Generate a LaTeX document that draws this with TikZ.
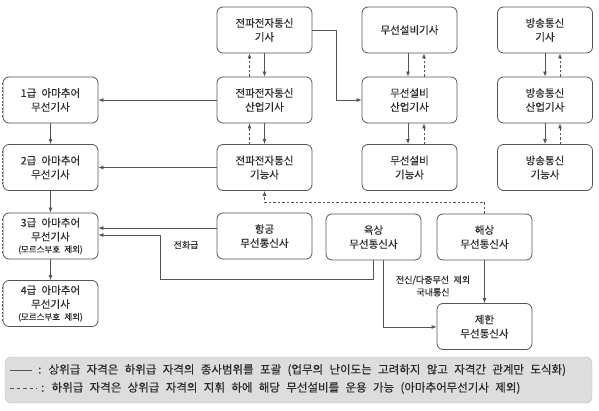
\documentclass[tikz,border=0pt]{standalone}
\usepackage{fontspec}
\setmainfont{Noto Sans CJK KR}[FakeBold=0.3]
\usetikzlibrary{arrows.meta}
\definecolor{edge}{HTML}{555555}
\definecolor{txt}{HTML}{2A2A2A}
\definecolor{legfill}{HTML}{DDDDDD}
\newcommand{\wsp}{\spaceskip=0.5em\relax}
\newcommand{\wspl}{\spaceskip=0.55em\relax}
\tikzset{
  box/.style={draw=edge, line width=0.8pt, rounded corners=6pt, minimum width=95pt, minimum height=46pt,
    inner sep=1pt, align=center, text=txt, font=\fontsize{10.5}{14}\selectfont\wsp, fill=white},
  sol/.style={draw=edge, line width=0.8pt, -{Latex[length=5pt,width=4pt]}},
  dsh/.style={draw=edge, line width=0.8pt, dash pattern=on 2.5pt off 2pt, -{Latex[length=5pt,width=4pt]}},
  small/.style={font=\fontsize{9}{12.5}\selectfont\wsp, text=txt, align=center},
  leg/.style={font=\fontsize{11.5}{14}\selectfont\wspl, text=txt, anchor=west, inner sep=0pt},
}
\newcommand{\mors}{{\fontsize{8.5}{9}\selectfont\wsp(모르스부호 제외)}}
\begin{document}
\begin{tikzpicture}[x=1pt,y=-1pt]
\useasboundingbox (0,0) rectangle (599,411);
% boxes
\node[box] (ejg) at (264.5,30) {전파전자통신\\기사};
\node[box] (eji) at (264.5,100) {전파전자통신\\산업기사};
\node[box] (ejn) at (264.5,167.5) {전파전자통신\\기능사};
\node[box] (a1) at (50.5,100) {1급 아마추어\\무선기사};
\node[box] (a2) at (50.5,167.5) {2급 아마추어\\무선기사};
\node[box] (a3) at (50.5,236) {3급 아마추어\\무선기사\\[-2pt]\mors};
\node[box] (a4) at (50.5,303.5) {4급 아마추어\\무선기사\\[-2pt]\mors};
\node[box] (air) at (264.5,236) {항공\\무선통신사};
\node[box] (land) at (373.5,237) {육상\\무선통신사};
\node[box] (sea) at (484.5,237) {해상\\무선통신사};
\node[box] (lim) at (484.5,326.5) {제한\\무선통신사};
\node[box] (wg) at (409.5,30) {무선설비기사};
\node[box] (wi) at (409.5,100) {무선설비\\산업기사};
\node[box] (wn) at (409.5,167.5) {무선설비\\기능사};
\node[box] (bg) at (545,30) {방송통신\\기사};
\node[box] (bi) at (545,100) {방송통신\\산업기사};
\node[box] (bn) at (545,167.5) {방송통신\\기능사};
% dashed left edges of amateur boxes
\foreach \n in {a1,a2,a3,a4}{
  \draw[white, line width=1.6pt] ([yshift=-16pt]\n.west) -- ([yshift=16pt]\n.west);
  \draw[edge, line width=0.8pt, dash pattern=on 2pt off 1.5pt] ([yshift=-17pt]\n.west) -- ([yshift=17pt]\n.west);
}
% vertical chains
\draw[sol] (ejg) -- (eji);
\draw[sol] (eji) -- (ejn);
\draw[dsh] ([xshift=-15pt]eji.north) -- ([xshift=-15pt]ejg.south);
\draw[dsh] ([xshift=-15pt]ejn.north) -- ([xshift=-15pt]eji.south);
\draw[sol] ([xshift=-1.5pt]wg.south) -- ([xshift=-1.5pt]wi.north);
\draw[sol] ([xshift=-1.5pt]wi.south) -- ([xshift=-1.5pt]wn.north);
\draw[dsh] ([xshift=14.5pt]wi.north) -- ([xshift=14.5pt]wg.south);
\draw[dsh] ([xshift=14.5pt]wn.north) -- ([xshift=14.5pt]wi.south);
\draw[sol] (bg) -- (bi);
\draw[sol] (bi) -- (bn);
\draw[dsh] ([xshift=15pt]bi.north) -- ([xshift=15pt]bg.south);
\draw[dsh] ([xshift=15pt]bn.north) -- ([xshift=15pt]bi.south);
\draw[sol] (a1) -- (a2);
\draw[sol] (a2) -- (a3);
\draw[sol] (a3) -- (a4);
% horizontals
\draw[sol] (eji) -- (a1);
\draw[sol] (ejn) -- (a2);
\coordinate (k1) at (336,30);
\draw[sol] (ejg.east) -- (k1) |- (wi.west);
% dashed from sea to ejn
\coordinate (d1) at (484.5,202);
\draw[dsh] (sea.north) -- (d1) -| (ejn.south);
% air -> a3
\coordinate (y228) at (0,228);
\draw[sol] (air.west |- y228) -- (a3.east |- y228);
\node[small] (tel) at (186,245) {전화급};
% land -> a3
\coordinate (l2) at (160,279);
\coordinate (y235) at (0,235);
\draw[sol] (land.south) |- (l2) |- (a3.east |- y235);
% land -> lim
\coordinate (x383) at (383,0);
\coordinate (l4) at (383,327);
\draw[sol] (land.south -| x383) -- (l4) -- (lim.west |- l4);
\node[small] (dom) at (433,286) {전신/다중무선 제외\\국내통신};
% sea -> lim
\draw[sol] (sea) -- (lim);
% legend
\node[draw=legfill!85!black, line width=0.4pt, fill=legfill, rounded corners=6pt, minimum width=587pt, minimum height=46pt, inner sep=0pt] (legend) at (298.5,380) {};
\coordinate (s1) at (10,370);
\coordinate (s2) at (32,370);
\coordinate (s3) at (10,388);
\coordinate (s4) at (37,388);
\draw[edge, line width=0.8pt] (s1) -- (s2);
\draw[edge, line width=0.8pt, dash pattern=on 3.5pt off 3pt] (s3) -- (s4);
\node[leg] (t1) at (38,370) {: 상위급 자격은 하위급 자격의 종사범위를 포괄 (업무의 난이도는 고려하지 않고 자격간 관계만 도식화)};
\node[leg] (t2) at (41,388) {: 하위급 자격은 상위급 자격의 지휘 하에 해당 무선설비를 운용 가능 (아마추어무선기사 제외)};
\end{tikzpicture}
\end{document}
